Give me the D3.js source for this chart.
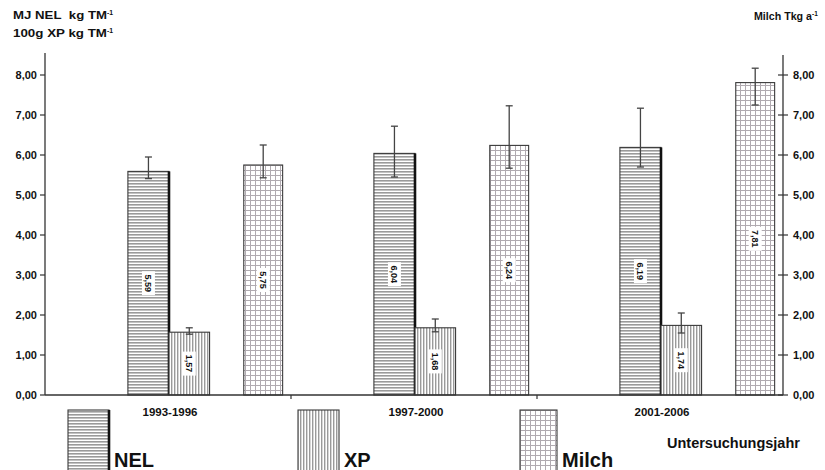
<!DOCTYPE html>
<html>
<head>
<meta charset="utf-8">
<script src="https://cdn.jsdelivr.net/npm/d3@7"></script>
<style>
  html, body { margin: 0; padding: 0; background: #fff; }
  svg { display: block; }
  text { font-family: "Liberation Sans", Arial, sans-serif; font-weight: bold; fill: #111; }
</style>
</head>
<body>
<script>
// Periods of investigation
const categories = ["1993-1996", "1997-2000", "2001-2006"];

// Energy content (MJ NEL kg TM^-1), left axis
const nelValues = [5.59, 6.04, 6.19];
const nelHigh   = [5.95, 6.72, 7.17];
const nelLow    = [5.41, 5.45, 5.70];

// Crude protein (100 g XP kg TM^-1), left axis
const xpValues = [1.57, 1.68, 1.74];
const xpHigh   = [1.68, 1.90, 2.05];
const xpLow    = [1.52, 1.58, 1.55];

// Milk yield (Tkg a^-1), right axis
const milchValues = [5.75, 6.24, 7.81];
const milchHigh   = [6.25, 7.23, 8.17];
const milchLow    = [5.43, 5.67, 7.25];

const tickValues = [0, 1, 2, 3, 4, 5, 6, 7, 8];

const W = 825, H = 470;
const svg = d3.select("body").append("svg").attr("width", W).attr("height", H);

const locale = d3.formatLocale({ decimal: ",", thousands: ".", grouping: [3], currency: ["", " €"] });
const fmt = locale.format(".2f");

const plot = { left: 45, right: 783, top: 53, bottom: 395 };

const x = d3.scaleBand().domain(categories).range([plot.left, plot.right]).padding(0);
const yLeft = d3.scaleLinear().domain([0, 8]).range([plot.bottom, 75]);
const yRight = d3.scaleLinear().domain([0, 8]).range([plot.bottom, 75]);

// Fill patterns
const defs = svg.append("defs");
const pH = defs.append("pattern").attr("id", "pat-nel").attr("patternUnits", "userSpaceOnUse")
  .attr("width", 6).attr("height", 3);
pH.append("rect").attr("width", 6).attr("height", 3).attr("fill", "#fff");
pH.append("rect").attr("y", 0).attr("width", 6).attr("height", 1.6).attr("fill", "#9a9a9a");

const pV = defs.append("pattern").attr("id", "pat-xp").attr("patternUnits", "userSpaceOnUse")
  .attr("width", 3).attr("height", 6);
pV.append("rect").attr("width", 3).attr("height", 6).attr("fill", "#fff");
pV.append("rect").attr("x", 0).attr("width", 1.4).attr("height", 6).attr("fill", "#9a9a9a");

const pG = defs.append("pattern").attr("id", "pat-milch").attr("patternUnits", "userSpaceOnUse")
  .attr("width", 5).attr("height", 5);
pG.append("rect").attr("width", 5).attr("height", 5).attr("fill", "#fff");
pG.append("rect").attr("x", 0).attr("width", 1).attr("height", 5).attr("fill", "#b0aab0");
pG.append("rect").attr("y", 0).attr("width", 5).attr("height", 1).attr("fill", "#b0aab0");

// Series placement inside each period band (fraction of band width)
const series = [
  { key: "NEL",   values: nelValues,   hi: nelHigh,   lo: nelLow,   y: yLeft,  off: 0.337, w: 0.167, fill: "url(#pat-nel)",   thickRight: true },
  { key: "XP",    values: xpValues,    hi: xpHigh,    lo: xpLow,    y: yLeft,  off: 0.504, w: 0.165, fill: "url(#pat-xp)",    thickRight: false },
  { key: "Milch", values: milchValues, hi: milchHigh, lo: milchLow, y: yRight, off: 0.808, w: 0.158, fill: "url(#pat-milch)", thickRight: false }
];

const bw = x.bandwidth();

series.forEach(s => {
  const g = svg.append("g").attr("class", "series-" + s.key);
  categories.forEach((c, i) => {
    const x0 = x(c) + s.off * bw;
    const w = s.w * bw;
    const yTop = s.y(s.values[i]);
    const y0 = s.y(0);
    g.append("rect")
      .attr("x", x0).attr("y", yTop).attr("width", w).attr("height", y0 - yTop)
      .attr("fill", s.fill).attr("stroke", "#3a3a3a").attr("stroke-width", 1.1);
    if (s.thickRight) {
      g.append("line").attr("x1", x0 + w).attr("x2", x0 + w).attr("y1", yTop).attr("y2", y0)
        .attr("stroke", "#111").attr("stroke-width", 2.6);
    }
    // error bar
    const cx = x0 + w / 2;
    const eg = g.append("g").attr("stroke", "#444").attr("stroke-width", 1.3);
    eg.append("line").attr("x1", cx).attr("x2", cx).attr("y1", s.y(s.hi[i])).attr("y2", s.y(s.lo[i]));
    eg.append("line").attr("x1", cx - 3.5).attr("x2", cx + 3.5).attr("y1", s.y(s.hi[i])).attr("y2", s.y(s.hi[i]));
    eg.append("line").attr("x1", cx - 3.5).attr("x2", cx + 3.5).attr("y1", s.y(s.lo[i])).attr("y2", s.y(s.lo[i]));
    // value label, rotated, on white box
    const cy = (yTop + y0) / 2;
    const lbl = g.append("g").attr("transform", `translate(${cx},${cy}) rotate(90)`);
    const t = fmt(s.values[i]);
    lbl.append("rect").attr("x", -12).attr("y", -6.5).attr("width", 24).attr("height", 13).attr("fill", "#fff");
    lbl.append("text").attr("text-anchor", "middle").attr("dy", "0.35em")
      .style("font-size", "9px").text(t);
  });
});

// Left axis
const axL = svg.append("g");
axL.append("line").attr("x1", plot.left).attr("x2", plot.left).attr("y1", plot.top).attr("y2", plot.bottom)
  .attr("stroke", "#333").attr("stroke-width", 1.3);
tickValues.forEach(v => {
  axL.append("line").attr("x1", plot.left - 5).attr("x2", plot.left).attr("y1", yLeft(v)).attr("y2", yLeft(v))
    .attr("stroke", "#333").attr("stroke-width", 1.2);
  axL.append("text").attr("x", plot.left - 8).attr("y", yLeft(v)).attr("dy", "0.35em")
    .attr("text-anchor", "end").style("font-size", "11px").text(fmt(v));
});

// Right axis
const axR = svg.append("g");
axR.append("line").attr("x1", plot.right).attr("x2", plot.right).attr("y1", plot.top + 2).attr("y2", plot.bottom)
  .attr("stroke", "#333").attr("stroke-width", 1.3);
tickValues.forEach(v => {
  axR.append("line").attr("x1", plot.right - 5).attr("x2", plot.right + 5).attr("y1", yRight(v)).attr("y2", yRight(v))
    .attr("stroke", "#333").attr("stroke-width", 1.2);
  axR.append("text").attr("x", plot.right + 10).attr("y", yRight(v)).attr("dy", "0.35em")
    .attr("text-anchor", "start").style("font-size", "11px").text(fmt(v));
});

// Category axis
const axX = svg.append("g");
axX.append("line").attr("x1", plot.left).attr("x2", plot.right).attr("y1", plot.bottom).attr("y2", plot.bottom)
  .attr("stroke", "#333").attr("stroke-width", 1.3);
categories.slice(1).forEach(c => {
  axX.append("line").attr("x1", x(c)).attr("x2", x(c)).attr("y1", plot.bottom).attr("y2", plot.bottom + 4)
    .attr("stroke", "#333").attr("stroke-width", 1.2);
});
categories.forEach(c => {
  axX.append("text").attr("x", x(c) + bw / 2 + 2).attr("y", plot.bottom + 21)
    .attr("text-anchor", "middle").style("font-size", "11.5px").text(c);
});

// Axis titles with superscripts
function titleLine(xp, yp, main, sup, size, len) {
  const t = svg.append("text").attr("x", xp).attr("y", yp).style("font-size", size + "px");
  const m = t.append("tspan").text(main);
  if (len) m.attr("textLength", len).attr("lengthAdjust", "spacingAndGlyphs");
  t.append("tspan").attr("dy", -4).style("font-size", (size * 0.62) + "px").text(sup);
  return t;
}
titleLine(13, 19, "MJ NEL\u00a0\u00a0kg TM", "-1", 11, 94);
titleLine(13, 37, "100g XP kg TM", "-1", 11, 94);
titleLine(754, 20, "Milch Tkg a", "-1", 10.5, 58);

// Legend
const legendItems = [
  { key: "NEL",   fill: "url(#pat-nel)",   x: 68,  thickRight: true },
  { key: "XP",    fill: "url(#pat-xp)",    x: 298, thickRight: false },
  { key: "Milch", fill: "url(#pat-milch)", x: 520, thickRight: false }
];
const lg = svg.append("g");
legendItems.forEach(d => {
  const w = d.key === "Milch" ? 37 : 41;
  lg.append("rect").attr("x", d.x).attr("y", 410).attr("width", w).attr("height", 70)
    .attr("fill", d.fill).attr("stroke", "#3a3a3a").attr("stroke-width", 1.1);
  if (d.thickRight) {
    lg.append("line").attr("x1", d.x + w).attr("x2", d.x + w).attr("y1", 410).attr("y2", 480)
      .attr("stroke", "#111").attr("stroke-width", 2.6);
  }
  lg.append("text").attr("x", d.x + w + 5).attr("y", 467).style("font-size", "20px").text(d.key);
});
svg.append("text").attr("x", 667).attr("y", 448).style("font-size", "14.5px").text("Untersuchungsjahr");
</script>
</body>
</html>
